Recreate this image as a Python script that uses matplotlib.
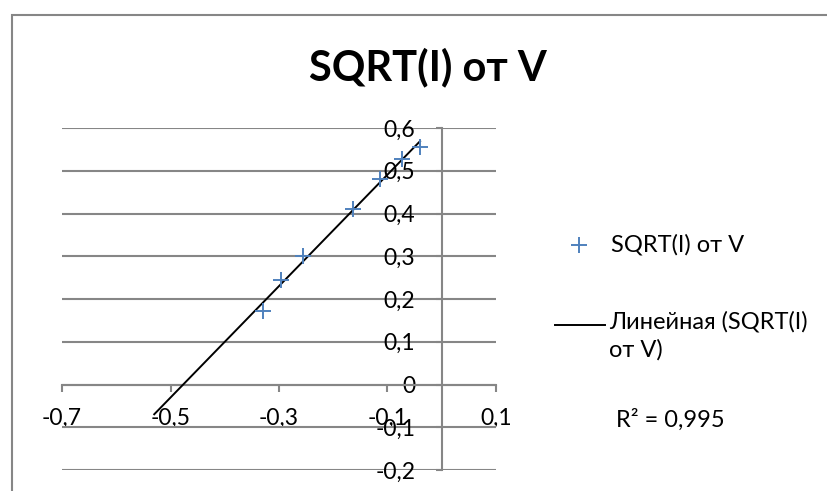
import numpy as np
from matplotlib import pyplot as plt
from matplotlib.lines import Line2D
from matplotlib.patches import Rectangle
from matplotlib.ticker import FuncFormatter, FixedLocator, MultipleLocator

plt.rcParams['font.family'] = ['Lato', 'DejaVu Sans']

# measured points, V and sqrt(I)
volts = [-0.330, -0.296, -0.255, -0.163, -0.114, -0.074, -0.040]
sqrt_i = [0.171, 0.245, 0.300, 0.411, 0.481, 0.528, 0.555]
x_ticks = [-0.7, -0.5, -0.3, -0.1, 0.1]
trend_from = -0.53  # excel "forecast backward" start
series_name = 'SQRT(I) от V'
trend_name = 'Линейная (SQRT(I)\nот V)'
r2_text = 'R² = 0,995'

blue = '#4F81BD'
grey = '#868686'


def comma(v, pos):
    s = '%g' % round(v, 2)
    return s.replace('.', ',')


fig = plt.figure(figsize=(8.28, 4.91), dpi=100)
ax = fig.add_axes([62 / 828, 1 - 470 / 491, 434 / 828, 342 / 491])

ax.plot(volts, sqrt_i, linestyle='none', marker='+', ms=12, mew=1.4, color=blue, zorder=4)

k, b = np.polyfit(volts, sqrt_i, 1)
xs = np.array([trend_from, max(volts)])
ax.plot(xs, k * xs + b, color='black', lw=1.4, zorder=3)

ax.set_xlim(-0.7, 0.1)
ax.set_ylim(-0.2, 0.6)
ax.xaxis.set_major_locator(FixedLocator(x_ticks))
ax.yaxis.set_major_locator(MultipleLocator(0.1))
ax.xaxis.set_major_formatter(FuncFormatter(comma))
ax.yaxis.set_major_formatter(FuncFormatter(comma))
ax.yaxis.grid(True, color=grey, lw=1.5)
ax.set_axisbelow(True)

for side in ['top', 'right']:
    ax.spines[side].set_visible(False)
ax.spines['left'].set_position(('data', 0))
ax.spines['bottom'].set_position(('data', 0))
ax.spines['left'].set_color(grey)
ax.spines['bottom'].set_color(grey)
ax.spines['left'].set_linewidth(1.5)
ax.spines['bottom'].set_linewidth(1.5)
ax.tick_params(axis='x', direction='out', length=5, width=1.5, color=grey, pad=12, labelsize=16.5)
ax.tick_params(axis='y', direction='out', length=4, width=1.5, color=grey, pad=15, labelsize=16.5)

fig.text(428 / 828, 1 - 67 / 491, 'SQRT(I) от V', ha='center', va='center',
         fontsize=30, fontweight='bold')

# legend, laid out like excel does it
fig.add_artist(Line2D([579 / 828], [1 - 245 / 491], marker='+', ms=12, mew=1.4,
                      color=blue, transform=fig.transFigure))
fig.text(611 / 828, 1 - 245 / 491, series_name, va='center', fontsize=17)
fig.add_artist(Line2D([555 / 828, 605 / 828], [1 - 325 / 491] * 2, color='black',
                      lw=1.4, transform=fig.transFigure))
fig.text(609 / 828, 1 - 311 / 491, trend_name, va='top', fontsize=17, linespacing=1.35)
fig.text(616 / 828, 1 - 420 / 491, r2_text, va='center', fontsize=17)

# chart area border
fig.add_artist(Rectangle((12 / 828, -0.2), 1.0, 1.2 - 15 / 491, fill=False,
                         edgecolor=grey, lw=1.5, transform=fig.transFigure))

fig.savefig('out.png', dpi=100)
